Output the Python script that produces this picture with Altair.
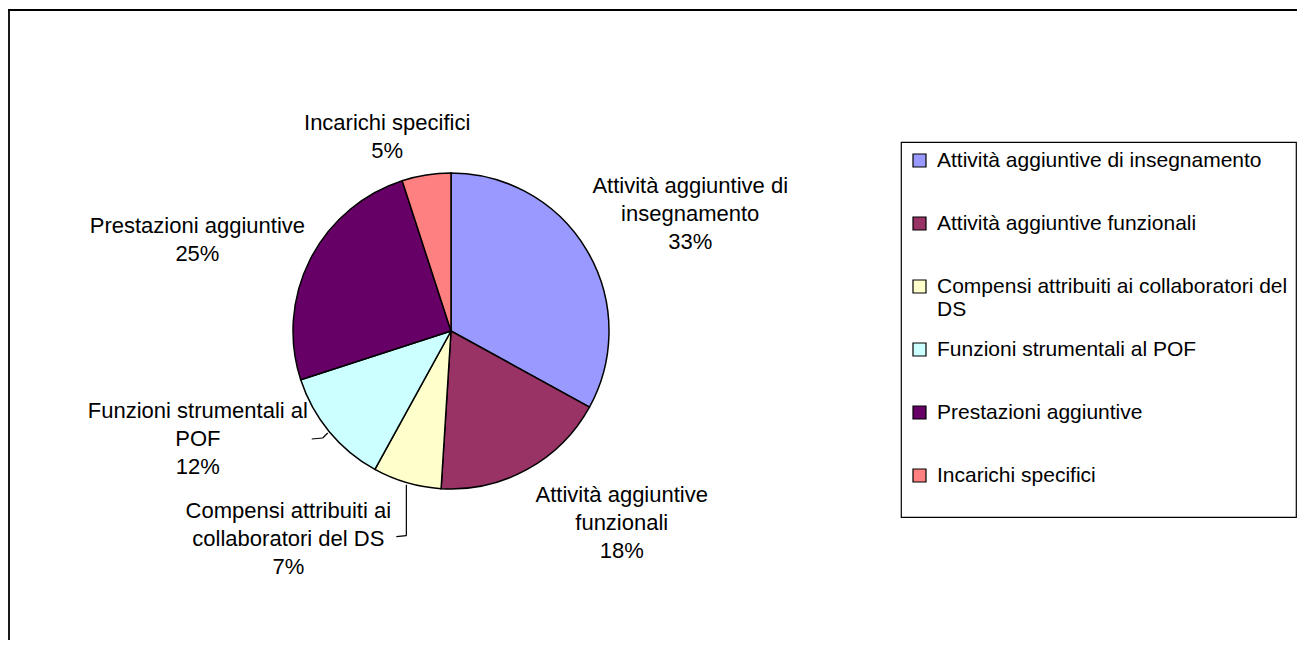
import math
import altair as alt
import pandas as pd

# ---- data ----
categories = [
    "Attività aggiuntive di insegnamento",
    "Attività aggiuntive funzionali",
    "Compensi attribuiti ai collaboratori del DS",
    "Funzioni strumentali al POF",
    "Prestazioni aggiuntive",
    "Incarichi specifici",
]
percentages = [33, 18, 7, 12, 25, 5]
slice_labels = [
    ["Attività aggiuntive di", "insegnamento"],
    ["Attività aggiuntive", "funzionali"],
    ["Compensi attribuiti ai", "collaboratori del DS"],
    ["Funzioni strumentali al", "POF"],
    ["Prestazioni aggiuntive"],
    ["Incarichi specifici"],
]
colors = ["#9999FF", "#993366", "#FFFFCC", "#CCFFFF", "#660066", "#FF8080"]

# ---- layout / style ----
FONT = "Liberation Sans"
FS = 22
W, H = 1289, 632
CX, CY = 443, 323          # pie centre inside the plot area
R = 158                    # pie radius
R_LAB = 178                # radius of label anchors
label_nudges = [(86, -54), (85, 8), (-113, 9), (-116, -33), (-95, -24), (-36, -32)]

df = pd.DataFrame({
    "categoria": categories,
    "valore": percentages,
    "ordine": list(range(len(categories))),
    "testo": ["\n".join(l + [f"{p}%"]) for l, p in zip(slice_labels, percentages)],
})
total = sum(percentages)

base = alt.Chart(df)

legend = alt.Legend(
    title=None, orient="none", legendX=893, legendY=134, direction="vertical",
    symbolType="square", symbolSize=169, symbolStrokeColor="black", symbolStrokeWidth=1.2,
    labelFont=FONT, labelFontSize=21, labelColor="black", labelLimit=0, labelOffset=7,
    rowPadding=18, gridAlign="all", padding=8, strokeColor="black", fillColor="white",
    labelExpr="datum.label == 'Compensi attribuiti ai collaboratori del DS' ? "
              "['Compensi attribuiti ai collaboratori del', 'DS'] : [datum.label, '']",
)

pie = base.mark_arc(outerRadius=R, stroke="black", strokeWidth=1.5).encode(
    theta=alt.Theta("valore:Q", stack=True, scale=alt.Scale(domain=[0, total])),
    order=alt.Order("ordine:Q"),
    color=alt.Color("categoria:N", scale=alt.Scale(domain=categories, range=colors), legend=legend),
    x=alt.value(CX),
    y=alt.value(CY),
)

stacked = base.transform_stack(
    stack="valore", groupby=[], as_=["inizio", "fine"], sort=[alt.SortField("ordine")]
).transform_calculate(medio="(datum.inizio + datum.fine) / 2")

layers = [pie]
for cat, (dx, dy) in zip(categories, label_nudges):
    layers.append(
        stacked.transform_filter(alt.datum.categoria == cat).mark_text(
            radius=R_LAB, dx=dx, dy=dy, align="center", baseline="middle",
            lineBreak="\n", lineHeight=28, font=FONT, fontSize=FS, color="black",
        ).encode(
            theta=alt.Theta("medio:Q", stack=None, scale=alt.Scale(domain=[0, total])),
            text="testo:N",
            x=alt.value(CX),
            y=alt.value(CY),
        )
    )

# leader lines for the two labels that Excel moved away from their slices
def mid_point(i, r):
    start = sum(percentages[:i])
    a = 2 * math.pi * (start + percentages[i] / 2) / total
    return CX + r * math.sin(a), CY - r * math.cos(a)

leader_shapes = {2: [(0, 51), (-10, 52)], 3: [(-5, 5), (-16, 6)]}
for i, pts in leader_shapes.items():
    sx, sy = mid_point(i, R + 2)
    path = [(sx, sy)] + [(sx + ox, sy + oy) for ox, oy in pts]
    for (x1, y1), (x2, y2) in zip(path[:-1], path[1:]):
        layers.append(
            base.transform_filter(alt.datum.ordine == i).mark_rule(
                color="black", strokeWidth=1.2
            ).encode(x=alt.value(x1), y=alt.value(y1), x2=alt.value(x2), y2=alt.value(y2))
        )

# chart-area frame (only its top and left sides fall inside the picture)
frame = base.transform_filter(alt.datum.ordine == 0)
layers.append(frame.mark_rule(color="black", strokeWidth=1.8).encode(
    x=alt.value(0), x2=alt.value(W), y=alt.value(2)))
layers.append(frame.mark_rule(color="black", strokeWidth=1.8).encode(
    x=alt.value(1), y=alt.value(2), y2=alt.value(H)))

chart = alt.layer(*layers).properties(
    width=W, height=H,
    padding=0,
    autosize=alt.AutoSizeParams(type="none"),
    background="white",
).configure_view(stroke="transparent").configure_legend(strokeWidth=1.2)

chart.save("out.html", embed_options={"renderer": "svg", "actions": False})
